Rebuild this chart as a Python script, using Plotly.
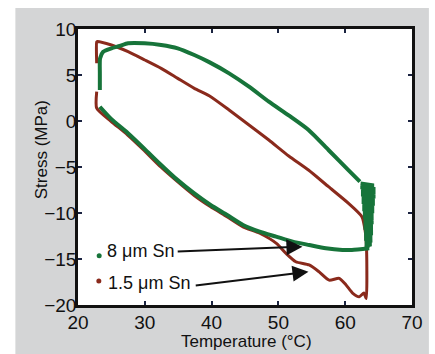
import plotly.graph_objects as go

# ---- data ----
# 8 um Sn : upper branch (left -> right), noisy block at ~64 C, lower branch (right -> left)
green_up_x = [23.27, 23.27, 23.3, 23.77, 25.01, 26.25, 27.49, 29.97, 32.45, 34.93, 37.41,
              39.64, 42.62, 45.6, 48.57, 51.55, 54.52, 57.5, 60.48, 62.2]
green_up_y = [3.37, 5.2, 6.8, 7.53, 7.9, 8.15, 8.44, 8.44, 8.26, 7.9, 7.17,
              6.4, 5.18, 3.73, 2.10, 0.6, -0.98, -3.15, -5.33, -6.6]
green_block_x = [62.3, 64.3, 62.3, 64.5, 62.4, 64.5, 62.4, 64.5, 62.5, 64.4, 62.5, 64.4,
                 62.6, 64.3, 62.6, 64.3, 62.7, 64.2, 62.7, 64.2, 62.8, 64.2, 62.8, 64.1,
                 62.8, 64.1, 62.9, 64.1, 62.9, 64.0, 62.9, 64.0, 63.0, 63.9, 63.0, 63.6]
green_block_y = [-6.8, -7.0, -7.2, -7.4, -7.6, -7.8, -8.0, -8.2, -8.4, -8.6, -8.8, -9.0,
                 -9.2, -9.4, -9.6, -9.8, -10.0, -10.2, -10.4, -10.6, -10.8, -11.0, -11.2, -11.4,
                 -11.6, -11.8, -12.0, -12.2, -12.4, -12.6, -12.8, -13.0, -13.2, -13.4, -13.6, -13.8]
green_lo_x = [63.6, 61.0, 59.58, 57.1, 54.62, 52.14, 49.66, 47.18, 44.7, 42.32, 39.84, 37.36,
              34.88, 32.4, 29.92, 27.44, 25.0, 23.27]
green_lo_y = [-13.84, -14.02, -14.02, -13.84, -13.48, -13.11, -12.57, -12.03, -11.3, -10.22,
              -9.13, -7.85, -6.4, -4.75, -3.0, -1.3, 0.2, 1.55]

# 1.5 um Sn : lower branch (left -> right), jump up at ~63 C, upper branch (right -> left)
red_x = [22.8, 22.8, 24.9, 27.4, 29.9, 32.4, 34.9, 37.4, 39.8, 42.3, 44.7, 47.2, 49.7, 51.15,
         52.6, 54.6, 56.1, 57.6, 59.1, 60.1, 61.1, 62.1, 62.8, 63.15,
         63.2, 63.0, 62.5,
         60.5, 57.5, 54.5, 51.55, 48.57, 45.6, 42.62, 39.64, 37.41, 34.93, 32.45, 30.0, 27.5,
         25.0, 22.9, 22.8, 22.8]
red_y = [3.2, 1.4, 0.0, -1.5, -3.2, -5.0, -6.6, -8.1, -9.3, -10.4, -11.5, -12.2, -13.3, -14.4,
         -15.3, -15.65, -16.4, -17.3, -17.1, -17.8, -18.7, -19.1, -18.7, -19.3,
         -14.0, -12.0, -10.4,
         -8.95, -7.14, -5.33, -3.8, -2.07, -0.43, 1.2, 2.75, 3.55, 4.63, 5.72, 6.63, 7.53,
         8.26, 8.65, 8.6, 6.27]

x_ticks = [20, 30, 40, 50, 60, 70]
y_ticks = [-20, -15, -10, -5, 0, 5, 10]

labels = ["8 μm Sn", "1.5 μm Sn"]
label_x = [24.0, 24.15]
label_y = [-14.15, -17.65]
dot_x = [23.17, 23.12]
dot_y = [-14.64, -17.39]
arrow_from_x = [34.7, 37.4]
arrow_from_y = [-14.2, -17.9]
arrow_to_x = [53.6, 54.5]
arrow_to_y = [-13.66, -16.38]

GREEN = "#17743a"
RED = "#8a2a1c"
FONT = "Liberation Sans, Arial, sans-serif"

fig = go.Figure()
fig.add_trace(go.Scatter(x=red_x, y=red_y, mode="lines",
                         line=dict(color=RED, width=3, shape="spline", smoothing=0.6),
                         showlegend=False))
fig.add_trace(go.Scatter(x=green_up_x, y=green_up_y, mode="lines",
                         line=dict(color=GREEN, width=4, shape="spline", smoothing=0.6),
                         showlegend=False))
fig.add_trace(go.Scatter(x=green_block_x, y=green_block_y, mode="lines",
                         line=dict(color=GREEN, width=4), showlegend=False))
fig.add_trace(go.Scatter(x=green_lo_x, y=green_lo_y, mode="lines",
                         line=dict(color=GREEN, width=4, shape="spline", smoothing=0.6),
                         showlegend=False))
fig.add_trace(go.Scatter(x=dot_x, y=dot_y, mode="markers",
                         marker=dict(color=[GREEN, RED], size=5), showlegend=False))

for i in range(2):
    fig.add_annotation(x=label_x[i], y=label_y[i], text=labels[i], showarrow=False,
                       xanchor="left", yanchor="middle",
                       font=dict(family=FONT, size=18, color="#111"))
    fig.add_annotation(x=arrow_to_x[i], y=arrow_to_y[i], ax=arrow_from_x[i], ay=arrow_from_y[i],
                       xref="x", yref="y", axref="x", ayref="y", text="",
                       showarrow=True, arrowhead=2, arrowsize=1.6, arrowwidth=2,
                       arrowcolor="#111")

# axis titles
fig.add_annotation(x=-0.107, y=0.5616, xref="paper", yref="paper", text="Stress (MPa)",
                   textangle=-90, showarrow=False, xanchor="center", yanchor="middle",
                   font=dict(family=FONT, size=17, color="#111"))
fig.add_annotation(x=0.503, y=-0.134, xref="paper", yref="paper", text="Temperature (°C)",
                   showarrow=False, xanchor="center", yanchor="middle",
                   font=dict(family=FONT, size=17, color="#111"))

axis_common = dict(showgrid=False, zeroline=False, showline=True, linecolor="#111",
                   linewidth=2.5, mirror="ticks", ticks="inside", ticklen=4, tickwidth=2,
                   tickcolor="#1a2340", tickfont=dict(family=FONT, size=19, color="#111"))

fig.update_xaxes(range=[20, 70], tickvals=x_ticks, ticktext=[str(v) for v in x_ticks],
                 ticklabelstandoff=-2, **axis_common)
fig.update_yaxes(range=[-20, 10], tickvals=y_ticks,
                 ticktext=[("−" + str(-v)) if v < 0 else str(v) for v in y_ticks],
                 ticklabelstandoff=-5, **axis_common)

fig.update_layout(
    width=435, height=354,
    margin=dict(l=78, r=21, t=29, b=49),
    paper_bgcolor="white", plot_bgcolor="white",
    shapes=[
        dict(type="rect", xref="paper", yref="paper", x0=-0.1875, x1=1.0506,
             y0=-0.25, y1=1.0761, fillcolor="#d4d5d6", line=dict(width=0), layer="below"),
        dict(type="rect", xref="x domain", yref="y domain", x0=0, x1=1, y0=0, y1=1,
             fillcolor="white", line=dict(width=0), layer="below"),
    ],
)

fig.write_html("out.html")
